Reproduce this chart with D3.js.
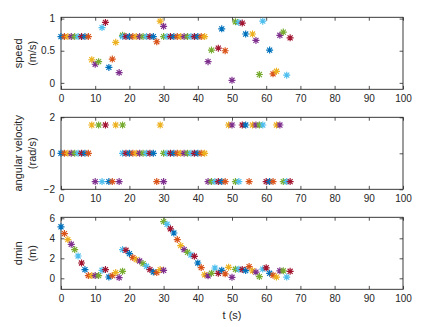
<!DOCTYPE html>
<html><head><meta charset="utf-8">
<script src="https://cdn.jsdelivr.net/npm/d3@7"></script>
<style>
html,body{margin:0;padding:0;background:#fff;}
text{font-family:"Liberation Sans",Arial,Helvetica,sans-serif;fill:#262626;}
</style></head>
<body><svg id="chart" width="428" height="327"></svg>
<script>
// ---- data ----
const tVals = [0,1,2,3,4,5,6,7,8,9,10,11,12,13,14,15,16,17,18,
  18,19,20,21,22,23,24,25,26,27,28,29,30,
  30,31,32,33,34,35,36,37,38,39,40,41,42,43,44,45,46,47,48,49,50,51,52,53,54,55,56,57,58,59,60,61,62,63,64,65,66,67];
const speed = [0.72,0.72,0.72,0.72,0.72,0.72,0.72,0.72,0.72,
  0.36,0.29,0.33,0.86,0.94,0.24,0.37,0.63,0.16,0.74,
  0.72,0.72,0.72,0.72,0.72,0.72,0.72,0.72,0.72,0.72,
  0.64,0.96,0.88,
  0.72,0.72,0.72,0.72,0.72,0.72,0.72,0.72,0.72,0.72,0.72,0.72,0.72,
  0.33,0.51,null,0.54,0.84,0.50,null,0.04,0.95,0.94,0.93,0.76,null,0.76,0.66,0.13,0.96,null,0.51,0.14,0.18,0.74,0.79,0.12,0.70];
const P = 1.5708, N = -1.5708;
const angVel = [0,0,0,0,0,0,0,0,0,
  P,N,P,N,P,N,N,P,N,P,
  0,0,0,0,0,0,0,0,0,0,
  N,P,N,
  0,0,0,0,0,0,0,0,0,0,0,0,0,
  N,N,N,N,N,N,P,P,N,N,P,P,N,P,P,P,P,N,N,N,P,P,N,N,N];
const dmin = [5.15,4.47,3.87,3.4,2.87,2.23,1.53,0.87,0.27,0.27,0.27,0.27,0.8,0.87,0.13,0.27,0.57,0.07,0.7,
  2.87,2.8,2.47,2.07,1.87,1.73,1.47,1.2,0.87,0.63,0.57,0.87,0.8,
  5.67,5.4,4.95,4.53,3.87,3.27,2.87,2.6,2.33,2.2,1.53,1.07,0.35,0.25,0.5,1.03,0.5,0.8,0.45,1.1,0.1,0.9,0.9,0.88,0.77,1.17,0.75,0.62,0.17,0.92,1.05,0.5,0.3,0.12,0.75,0.75,0.12,0.7];
const colorOrder = ["#0072BD","#D95319","#EDB120","#7E2F8E","#77AC30","#4DBEEE","#A2142F"];
const xTicks = [0,10,20,30,40,50,60,70,80,90,100];
const speedTicks = [0,0.5,1];
const angTicks = [-2,0,2];
const dminTicks = [0,2,4,6];
const yLabels = [["speed","(m/s)"],["angular velocity","(rad/s)"],["dmin","(m)"]];
const xLabel = "t (s)";

// ---- layout ----
const svg = d3.select("#chart");
svg.append("rect").attr("width",428).attr("height",327).attr("fill","#fff");
const left = 61, right = 403, axH = 72;
const tops = [17.3, 117.3, 217.3];
const x = d3.scaleLinear().domain([0,100]).range([left,right]);
const panels = [
  {vals: speed, dom: [-0.1,1.02], ticks: speedTicks},
  {vals: angVel, dom: [-2,2], ticks: angTicks},
  {vals: dmin, dom: [-1.1,6.1], ticks: dminTicks}
];
const axisColor = "#262626";
const tickLen = 3.4;

panels.forEach((p,pi)=>{
  const top = tops[pi], bot = top + axH;
  p.y = d3.scaleLinear().domain(p.dom).range([bot, top]);
  const g = svg.append("g");
  p.plot = svg.append("g");
  const xb = d3.axisBottom(x).tickValues(xTicks).tickSizeInner(-tickLen).tickSizeOuter(0).tickPadding(6);
  const gx = g.append("g").attr("transform",`translate(0,${bot})`).call(xb);
  const xt = d3.axisTop(x).tickValues(xTicks).tickSizeInner(-tickLen).tickSizeOuter(0).tickFormat("");
  const gxt = g.append("g").attr("transform",`translate(0,${top})`).call(xt);
  const yl = d3.axisLeft(p.y).tickValues(p.ticks).tickSizeInner(-tickLen).tickSizeOuter(0).tickPadding(6).tickFormat(d3.format("~g"));
  const gy = g.append("g").attr("transform",`translate(${left},0)`).call(yl);
  const yr = d3.axisRight(p.y).tickValues(p.ticks).tickSizeInner(-tickLen).tickSizeOuter(0).tickFormat("");
  const gyr = g.append("g").attr("transform",`translate(${right},0)`).call(yr);
  [gx,gxt,gy,gyr].forEach(a=>{
    a.select(".domain").remove();
    a.selectAll("line").attr("stroke",axisColor).attr("stroke-width",0.8);
    a.selectAll("text").attr("font-size",10).attr("fill",axisColor)
      .style("font-family",'"Liberation Sans",Arial,sans-serif');
  });
  g.append("rect").attr("x",left).attr("y",top).attr("width",right-left).attr("height",axH)
    .attr("fill","none").attr("stroke",axisColor).attr("stroke-width",0.9);
  const cy = (top+bot)/2;
  const lab = yLabels[pi];
  [18,32].forEach((lx,li)=>{
    svg.append("text").attr("transform",`translate(${lx},${cy}) rotate(-90)`)
      .attr("text-anchor","middle").attr("dominant-baseline","central")
      .attr("font-size",11).text(lab[li]);
  });
});

svg.append("text").attr("x",(left+right)/2).attr("y",315).attr("text-anchor","middle")
  .attr("dominant-baseline","central").attr("font-size",11).text(xLabel);

// asterisk marker path
const r = 3.5, rd = r*0.72;
const star = `M${-r},0L${r},0M0,${-r}L0,${r}M${-rd},${-rd}L${rd},${rd}M${-rd},${rd}L${rd},${-rd}`;

tVals.forEach((t,i)=>{
  const col = colorOrder[i % colorOrder.length];
  panels.forEach(p=>{
    const v = p.vals[i];
    if (v === null || v === undefined) return;
    if (v < p.dom[0] || v > p.dom[1]) return;
    p.plot.append("path").attr("d",star)
      .attr("transform",`translate(${x(t)},${p.y(v)})`)
      .attr("fill","none").attr("stroke",col).attr("stroke-width",1.15);
  });
});
</script></body></html>
